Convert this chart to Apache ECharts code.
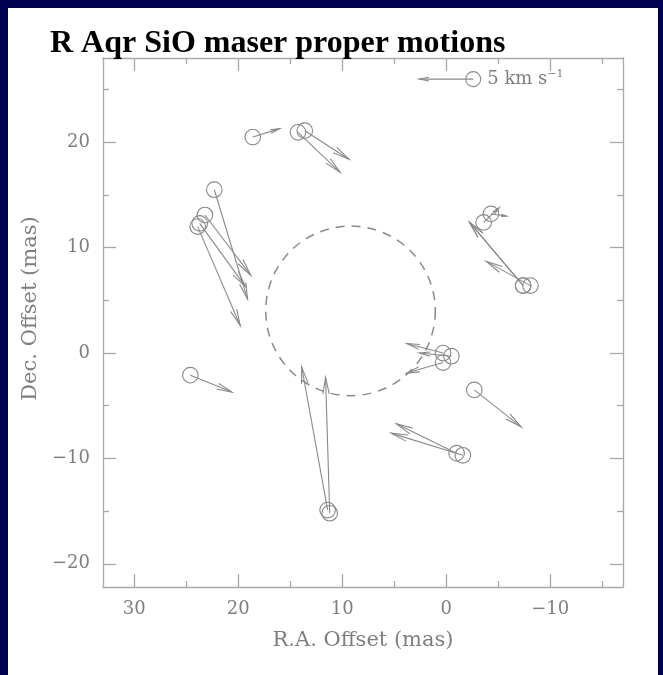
<!DOCTYPE html>
<html><head><meta charset="utf-8">
<script src="https://cdn.jsdelivr.net/npm/echarts@6/dist/echarts.min.js"></script>
<style>html,body{margin:0;padding:0;background:#000050;}#c{width:663px;height:675px;}</style>
</head><body><div id="c"></div>
<script>
// ---- data (mas) ----
const xMajorTicks = [30, 20, 10, 0, -10];
const xMinorTicks = [25, 15, 5, -5, -15];
const yMajorTicks = [20, 10, 0, -10, -20];
const yMinorTicks = [25, 15, 5, -5, -15];
// maser spot positions (circles)
const spotRA  = [18.6, 22.3, 23.2, 23.7, 23.9, 14.25, 13.6, -3.6, -4.3, -7.4, -8.1, -7.4, 0.3, -0.5, 0.3, -2.7, -1.0, -1.6, 11.4, 11.2, 24.6];
const spotDec = [20.5, 15.5, 13.1, 12.3, 12.0, 20.95, 21.1, 12.4, 13.2, 6.4, 6.4, 6.4, 0.0, -0.3, -0.9, -3.5, -9.5, -9.7, -14.9, -15.2, -2.1];
// arrow tips
const tipRA   = [16.0, 19.1, 18.8, 19.3, 19.8, 10.2, 9.35, -5.1, -5.8, -2.25, -3.85, -2.25, 3.8, 2.6, 3.8, -7.2, 4.8, 5.3, 13.9, 11.6, 20.6];
const tipDec  = [21.3, 5.1, 7.4, 6.3, 2.6, 17.15, 18.4, 13.8, 13.0, 12.4, 8.7, 12.4, 0.9, 0.0, -1.9, -7.0, -6.7, -7.6, -1.3, -2.3, -3.7];
// stellar disk (dashed circle)
const diskCenter = [9.2, 4.0];
const diskRadius = 8.1;
// velocity scale legend
const legendCircle = [-2.6, 26];
const legendTip = [2.6, 26];
const legendText = '5 km s';
const legendSup = '\u22121';

const GRAY = '#8a8a8a';
const TXT = '#7f7f7f';
const AX = '#a8a8a8';
const FONT = 'DejaVu Serif';

function fmt(v){ return v < 0 ? '\u2212' + Math.abs(v) : String(v); }

const chart = echarts.init(document.getElementById('c'));

function arrowShapes(p0, p1, headMax){
  const dx = p1[0]-p0[0], dy = p1[1]-p0[1];
  const len = Math.hypot(dx, dy) || 1;
  const ux = dx/len, uy = dy/len;
  const h = Math.min(headMax, len*0.35);
  const a = 0.19;
  const c = Math.cos(a), s = Math.sin(a);
  const b1 = [p1[0] - h*(ux*c - uy*s), p1[1] - h*(uy*c + ux*s)];
  const b2 = [p1[0] - h*(ux*c + uy*s), p1[1] - h*(uy*c - ux*s)];
  return [
    {type:'line', shape:{x1:p0[0],y1:p0[1],x2:p1[0],y2:p1[1]}, style:{stroke:GRAY,lineWidth:1.1}},
    {type:'polyline', shape:{points:[b1,p1,b2]}, style:{stroke:GRAY,lineWidth:1.1,fill:null}}
  ];
}

const spotData = spotRA.map((x,i)=>[x, spotDec[i], tipRA[i], tipDec[i]]);

function xAxisDef(pos, ticks, len, showLabel, showLine){
  return {
    type:'value', position:pos, min:-17, max:33, inverse:true,
    axisLine:{show:showLine, onZero:false, lineStyle:{color:AX, width:1.3}},
    axisTick:{show:true, inside:true, length:len, customValues:ticks, lineStyle:{color:AX, width:1.3}},
    axisLabel:{show:showLabel, customValues:ticks, formatter:fmt, color:TXT, fontFamily:FONT, fontSize:18, margin:13},
    splitLine:{show:false}
  };
}
function yAxisDef(pos, ticks, len, showLabel, showLine){
  return {
    type:'value', position:pos, min:-22.2, max:28,
    axisLine:{show:showLine, onZero:false, lineStyle:{color:AX, width:1.3}},
    axisTick:{show:true, inside:true, length:len, customValues:ticks, lineStyle:{color:AX, width:1.3}},
    axisLabel:{show:showLabel, customValues:ticks, formatter:fmt, color:TXT, fontFamily:FONT, fontSize:18, margin:13},
    splitLine:{show:false}
  };
}

const xA = [
  xAxisDef('bottom', xMajorTicks, 13, true, true),
  xAxisDef('bottom', xMinorTicks, 6, false, false),
  xAxisDef('top', xMajorTicks, 13, false, true),
  xAxisDef('top', xMinorTicks, 6, false, false)
];
xA[0].name = 'R.A. Offset (mas)';
xA[0].nameLocation = 'middle';
xA[0].nameGap = 43;
xA[0].nameTextStyle = {color:TXT, fontFamily:FONT, fontSize:21};
const yA = [
  yAxisDef('left', yMajorTicks, 13, true, true),
  yAxisDef('left', yMinorTicks, 6, false, false),
  yAxisDef('right', yMajorTicks, 13, false, true),
  yAxisDef('right', yMinorTicks, 6, false, false)
];
yA[0].name = 'Dec. Offset (mas)';
yA[0].nameLocation = 'middle';
yA[0].nameGap = 54;
yA[0].nameTextStyle = {color:TXT, fontFamily:FONT, fontSize:21, padding:[0,0,0,28]};

chart.setOption({
  backgroundColor:'#000050',
  animation:false,
  graphic:[
    {type:'rect', z:-10, shape:{x:8, y:8, width:650, height:667}, style:{fill:'#ffffff'}},
    {type:'text', left:50, top:28, style:{text:'R Aqr SiO maser proper motions', font:'bold 32px "Liberation Serif"', fill:'#000000'}, z:100}
  ],
  grid:{left:103, right:40, top:58, bottom:88, containLabel:false},
  xAxis:xA,
  yAxis:yA,
  series:[
    {
      type:'custom', xAxisIndex:0, yAxisIndex:0,
      data:[[diskCenter[0], diskCenter[1], diskRadius]],
      renderItem:function(params, api){
        const c = api.coord([api.value(0), api.value(1)]);
        const sz = api.size([api.value(2), api.value(2)]);
        const r = (sz[0]+sz[1])/2;
        return {type:'circle', shape:{cx:c[0], cy:c[1], r:r}, style:{stroke:'#8a8a8a', fill:null, lineWidth:1.5, lineDash:[9,7]}};
      }
    },
    {
      type:'custom', xAxisIndex:0, yAxisIndex:0,
      data:spotData,
      renderItem:function(params, api){
        const p0 = api.coord([api.value(0), api.value(1)]);
        const p1 = api.coord([api.value(2), api.value(3)]);
        const ch = [{type:'circle', shape:{cx:p0[0], cy:p0[1], r:7.8}, style:{stroke:GRAY, fill:null, lineWidth:1.1}}];
        return {type:'group', children:ch.concat(arrowShapes(p0, p1, 17))};
      }
    },
    {
      type:'custom', xAxisIndex:0, yAxisIndex:0,
      data:[[legendCircle[0], legendCircle[1], legendTip[0], legendTip[1]]],
      renderItem:function(params, api){
        const p0 = api.coord([api.value(0), api.value(1)]);
        const p1 = api.coord([api.value(2), api.value(3)]);
        const ch = [
          {type:'circle', shape:{cx:p0[0], cy:p0[1], r:7.5}, style:{stroke:GRAY, fill:null, lineWidth:1.1}},
          {type:'text', x:p0[0]+14, y:p0[1], style:{text:'{a|'+legendText+'}{b|'+legendSup+'}', verticalAlign:'middle', rich:{a:{fontFamily:FONT, fontSize:18, fill:TXT}, b:{fontFamily:FONT, fontSize:11, fill:TXT, verticalAlign:'top', padding:[0,0,9,0]}}}}
        ];
        return {type:'group', children:ch.concat(arrowShapes(p0, p1, 10))};
      }
    }
  ]
});
</script></body></html>
